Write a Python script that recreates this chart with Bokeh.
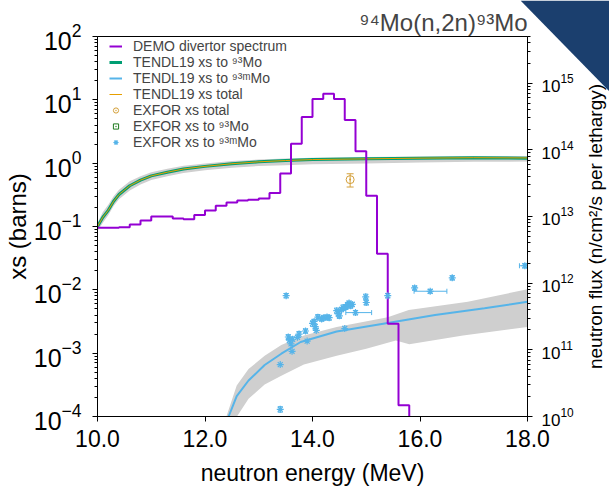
import math
from bokeh.plotting import figure
from bokeh.layouts import row
from bokeh.core.properties import value
from bokeh.models import (Range1d, LogScale, LogAxis, FixedTicker, PrintfTickFormatter,
                          Legend, LegendItem, Whisker, ColumnDataSource, TeeHead)
from bokeh.embed import file_html
from bokeh.resources import INLINE

# ---------------- data ----------------
# TENDL19 cross sections (barns) vs neutron energy (MeV)
E_xs = [10.0, 10.1, 10.2, 10.3, 10.4, 10.6, 10.8, 11.0, 11.3, 11.6, 12.0, 12.5, 13.0, 13.5, 14.0, 15.0, 16.0, 17.0, 18.0]
xs_93 = [0.10, 0.14, 0.18, 0.25, 0.32, 0.44, 0.54, 0.63, 0.72, 0.81, 0.89, 0.98, 1.05, 1.10, 1.14, 1.17, 1.20, 1.22, 1.20]
xs_total = [0.10, 0.14, 0.18, 0.25, 0.32, 0.44, 0.54, 0.63, 0.72, 0.81, 0.89, 0.98, 1.05, 1.10, 1.14, 1.17, 1.20, 1.22, 1.21]
xs_93_lo = [0.085, 0.115, 0.15, 0.21, 0.27, 0.37, 0.46, 0.54, 0.62, 0.70, 0.77, 0.85, 0.90, 0.93, 0.96, 0.99, 1.02, 1.05, 1.06]
xs_93_hi = [0.115, 0.17, 0.22, 0.30, 0.38, 0.52, 0.62, 0.72, 0.82, 0.91, 0.99, 1.08, 1.14, 1.19, 1.22, 1.25, 1.28, 1.30, 1.30]

E_m = [12.40, 12.44, 12.59, 12.81, 13.11, 13.42, 13.78, 14.45, 15.40, 16.28, 17.20, 18.0]
xs_m = [6.0e-5, 1.0e-4, 2.1e-4, 3.7e-4, 6.5e-4, 9.8e-4, 1.5e-3, 2.2e-3, 3.0e-3, 4.0e-3, 5.1e-3, 6.5e-3]
E_m_hi = [12.36, 12.59, 12.81, 13.11, 13.42, 13.84, 14.45, 15.40, 15.79, 16.89, 18.0]
xs_m_hi = [8.0e-5, 3.1e-4, 5.6e-4, 9.1e-4, 1.35e-3, 1.9e-3, 2.6e-3, 3.7e-3, 4.8e-3, 6.5e-3, 1.02e-2]
E_m_lo = [12.52, 12.81, 13.11, 13.42, 13.84, 14.45, 15.0, 15.55, 15.8, 16.8, 18.0]
xs_m_lo = [8.0e-5, 1.9e-4, 3.2e-4, 4.4e-4, 6.6e-4, 9.1e-4, 1.17e-3, 1.58e-3, 1.38e-3, 1.9e-3, 2.6e-3]

# DEMO divertor spectrum (n/cm2/s per lethargy), 0.2 MeV bins
flux_edges = [10.0, 10.2, 10.4, 10.6, 10.8, 11.0, 11.2, 11.4, 11.6, 11.8, 12.0, 12.2, 12.4, 12.6, 12.8,
              13.0, 13.2, 13.4, 13.6, 13.8, 14.0, 14.2, 14.4, 14.6, 14.8, 15.0, 15.2, 15.4, 15.6, 15.8, 16.0]
flux_vals = [6.8e12, 6.8e12, 6.9e12, 7.6e12, 8.7e12, 1.0e13, 1.0e13, 9.3e12, 9.1e12, 1.05e13, 1.23e13,
             1.45e13, 1.62e13, 1.74e13, 1.78e13, 1.86e13, 2.24e13, 4.4e13, 1.23e14, 3.1e14, 5.8e14,
             6.9e14, 5.8e14, 2.8e14, 9.5e13, 2.04e13, 2.75e12, 2.45e11, 1.48e10, 1.0e9]

# EXFOR total
exf_tot_E = [14.70]
exf_tot_xs = [0.55]
exf_tot_err = [0.13]

# EXFOR to 93Mo (none inside the plotted window)
exf_g_E = [8.0]
exf_g_xs = [1.0]

# EXFOR to 93mMo
exf_m_E = [13.40, 13.40, 13.51, 13.55, 13.57, 13.60, 13.62, 13.63, 13.72, 13.75, 13.87, 13.90, 14.00, 14.03,
           14.05, 14.07, 14.10, 14.17, 14.21, 14.27, 14.31, 14.45, 14.48, 14.50, 14.54, 14.57, 14.60, 14.62,
           14.65, 14.68, 14.71, 14.74, 14.80, 14.99, 15.00, 15.40, 15.90, 16.19, 16.60, 17.95]
exf_m_xs = [6.6e-4, 1.3e-4, 8.1e-3, 1.8e-3, 1.6e-3, 1.4e-3, 1.07e-3, 1.66e-3, 1.78e-3, 2.0e-3, 2.24e-3,
            1.55e-3, 2.95e-3, 3.16e-3, 2.63e-3, 2.29e-3, 3.7e-3, 3.47e-3, 3.63e-3, 3.72e-3, 3.63e-3,
            4.68e-3, 4.17e-3, 3.89e-3, 4.9e-3, 5.25e-3, 2.45e-3, 5.37e-3, 5.75e-3, 6.17e-3, 5.62e-3,
            5.89e-3, 4.37e-3, 7.76e-3, 6.31e-3, 8.1e-3, 1.07e-2, 9.5e-3, 1.55e-2, 2.4e-2]
exf_m_relerr = [0.08, 0.10, 0.08, 0.09, 0.08, 0.10, 0.08, 0.09, 0.08, 0.10, 0.08, 0.09, 0.10, 0.08,
                0.09, 0.08, 0.10, 0.08, 0.09, 0.08, 0.09, 0.10, 0.08, 0.09, 0.08, 0.10, 0.08, 0.09,
                0.10, 0.08, 0.09, 0.08, 0.08, 0.10, 0.09, 0.08, 0.08, 0.07, 0.08, 0.08]
exf_m_xerr_xs = [4.37e-3, 9.5e-3, 2.4e-2]
exf_m_xerr_lo = [14.62, 15.89, 17.85]
exf_m_xerr_hi = [15.10, 16.50, 18.05]

x_ticks = [10, 12, 14, 16, 18]
xs_ticks = [1e-4, 1e-3, 1e-2, 1e-1, 1e0, 1e1, 1e2]
flux_ticks = [1e10, 1e11, 1e12, 1e13, 1e14, 1e15]

TITLE = "⁹⁴Mo(n,2n)⁹³Mo"
RIGHT_LABEL = "neutron flux (n/cm²/s per lethargy)"

# ---------------- colours / fonts ----------------
FONT = "Liberation Sans"
PURPLE = "#9400d3"
GREEN = "#009e73"
BLUE = "#56b4e9"
ORANGE = "#e69f00"
GOLD = "#d4a03a"
DKGREEN = "#1e7a1e"
BAND = "#cfcfcf"
NAVY = "#1b3f6e"

p = figure(width=609, height=496, x_range=Range1d(10, 18), y_range=Range1d(1e-4, 1e2),
           y_axis_type="log", output_backend="svg", toolbar_location=None,
           min_border_left=90, min_border_right=82, min_border_top=36, min_border_bottom=80,
           extra_y_ranges={"flux": Range1d(1e10, 5e15)}, extra_y_scales={"flux": LogScale()})
p.xgrid.visible = False
p.ygrid.visible = False
p.outline_line_color = "black"
p.outline_line_alpha = 1
p.background_fill_color = "white"

# title with superscripts
p.title.text = TITLE
p.title.align = "right"
p.title.text_font = FONT
p.title.text_font_size = "24px"
p.title.text_font_style = "normal"
p.title.standoff = 2

# bands
p.varea(x=E_xs, y1=xs_93_lo, y2=xs_93_hi, color=BAND)
p.patch(x=E_m_hi + E_m_lo[::-1], y=xs_m_hi + xs_m_lo[::-1], color=BAND, line_color=None)

# curves
r_green = p.line(E_xs, xs_93, line_color=GREEN, line_width=3)
r_tot = p.line(E_xs, xs_total, line_color=ORANGE, line_width=1)
r_blue = p.line(E_m, xs_m, line_color=BLUE, line_width=2)

# spectrum
step_y = flux_vals + [flux_vals[-1]]
r_demo = p.step(x=flux_edges, y=step_y, mode="after", line_color=PURPLE, line_width=2, y_range_name="flux")

# EXFOR total
src_t = ColumnDataSource(dict(x=exf_tot_E, y=exf_tot_xs,
                              lo=[a - b for a, b in zip(exf_tot_xs, exf_tot_err)],
                              hi=[a + b for a, b in zip(exf_tot_xs, exf_tot_err)]))
p.add_layout(Whisker(source=src_t, base="x", lower="lo", upper="hi", dimension="height",
                     line_color=GOLD, line_width=1,
                     lower_head=TeeHead(size=7, line_color=GOLD), upper_head=TeeHead(size=7, line_color=GOLD)))
r_exf_t = p.scatter("x", "y", source=src_t, marker="circle_dot", size=8, fill_color=None,
                    line_color=GOLD, line_width=1)

# EXFOR 93Mo
r_exf_g = p.scatter(x=exf_g_E, y=exf_g_xs, marker="square_dot", size=8, fill_color=None,
                    line_color=DKGREEN, line_width=1)

# EXFOR 93mMo
src_m = ColumnDataSource(dict(x=exf_m_E, y=exf_m_xs,
                              lo=[a * (1 - e) for a, e in zip(exf_m_xs, exf_m_relerr)],
                              hi=[a * (1 + e) for a, e in zip(exf_m_xs, exf_m_relerr)]))
p.add_layout(Whisker(source=src_m, base="x", lower="lo", upper="hi", dimension="height",
                     line_color=BLUE, line_width=1,
                     lower_head=TeeHead(size=5, line_color=BLUE), upper_head=TeeHead(size=5, line_color=BLUE)))
src_mx = ColumnDataSource(dict(y=exf_m_xerr_xs, lo=exf_m_xerr_lo, hi=exf_m_xerr_hi))
p.add_layout(Whisker(source=src_mx, base="y", lower="lo", upper="hi", dimension="width",
                     line_color=BLUE, line_width=1,
                     lower_head=TeeHead(size=5, line_color=BLUE), upper_head=TeeHead(size=5, line_color=BLUE)))
r_exf_m = p.scatter("x", "y", source=src_m, marker="asterisk", size=7, line_color=BLUE, line_width=1.2)

# ---------------- axes ----------------
def style_axis(ax, size):
    ax.axis_line_color = "black"
    ax.major_tick_line_color = "black"
    ax.minor_tick_line_color = "black"
    ax.major_tick_in = 0
    ax.major_tick_out = 5
    ax.minor_tick_in = 0
    ax.minor_tick_out = 3
    ax.major_label_text_font = FONT
    ax.major_label_text_font_size = size
    ax.major_label_text_color = "black"
    ax.axis_label_text_font = FONT
    ax.axis_label_text_font_style = "normal"
    ax.axis_label_text_color = "black"

xa = p.xaxis[0]
style_axis(xa, "23px")
xa.ticker = FixedTicker(ticks=x_ticks)
xa.formatter = PrintfTickFormatter(format="%.1f")
xa.minor_tick_line_color = None
xa.axis_label = "neutron energy (MeV)"
xa.axis_label_text_font_size = "23px"
xa.major_label_standoff = 8
xa.axis_label_standoff = 10

ya = p.yaxis[0]
style_axis(ya, "25px")
ya.ticker = FixedTicker(ticks=xs_ticks,
                        minor_ticks=[m * t for t in xs_ticks[:-1] for m in range(2, 10)])
ya.axis_label = "xs (barns)"
ya.axis_label_text_font_size = "24px"
ya.major_label_standoff = 11
ya.axis_label_standoff = 0

ra = LogAxis(y_range_name="flux")
style_axis(ra, "17px")
ra.ticker = FixedTicker(ticks=flux_ticks,
                        minor_ticks=[m * t for t in flux_ticks for m in range(2, 10)])
ra.major_label_standoff = 9
p.add_layout(ra, "right")

# ---------------- legend ----------------
legend = Legend(items=[
    LegendItem(label="DEMO divertor spectrum", renderers=[r_demo]),
    LegendItem(label="TENDL19 xs to ⁹³Mo", renderers=[r_green]),
    LegendItem(label="TENDL19 xs to ⁹³ᵐMo", renderers=[r_blue]),
    LegendItem(label="TENDL19 xs total", renderers=[r_tot]),
    LegendItem(label="EXFOR xs total", renderers=[r_exf_t]),
    LegendItem(label="EXFOR xs to ⁹³Mo", renderers=[r_exf_g]),
    LegendItem(label="EXFOR xs to ⁹³ᵐMo", renderers=[r_exf_m]),
], location=(12, 266), padding=0, margin=0, spacing=0,
    glyph_width=13, glyph_height=16, label_height=16, label_standoff=11,
    label_text_font=FONT, label_text_font_size="14px",
    border_line_color=None, background_fill_alpha=0)
p.add_layout(legend)

# ---------------- right-axis title, reading bottom-to-top (overlaid strip) ----------------
lab = figure(frame_width=24, frame_height=380, x_range=Range1d(0, 1), y_range=Range1d(0, 1),
             output_backend="svg", toolbar_location=None, min_border=0, title=None,
             x_axis_location=None, y_axis_location=None)
lab.xgrid.visible = False
lab.ygrid.visible = False
lab.outline_line_color = None
lab.background_fill_alpha = 0
lab.border_fill_alpha = 0
lab.text(x=[0.5], y=[0.5], text=[RIGHT_LABEL], angle=math.pi / 2, text_align="center",
         text_baseline="middle", text_font=value(FONT), text_font_size=value("19px"), text_color="black")
lab.margin = (0, 0, 0, -26)

# ---------------- decorative corner triangle (overlaid small figure) ----------------
corner = figure(frame_width=89, frame_height=91, x_range=Range1d(0, 1), y_range=Range1d(0, 1),
                output_backend="svg", toolbar_location=None, min_border=0, title=None,
                x_axis_location=None, y_axis_location=None)
corner.frame_align = False
corner.xgrid.visible = False
corner.ygrid.visible = False
corner.outline_line_color = None
corner.background_fill_alpha = 0
corner.border_fill_alpha = 0
corner.patch(x=[0, 1, 1], y=[1, 1, 0], fill_color=NAVY, line_color=None)
corner.margin = (0, 0, 0, -87)

layout = row(p, lab, corner)
open("out.html", "w").write(file_html(layout, INLINE))
